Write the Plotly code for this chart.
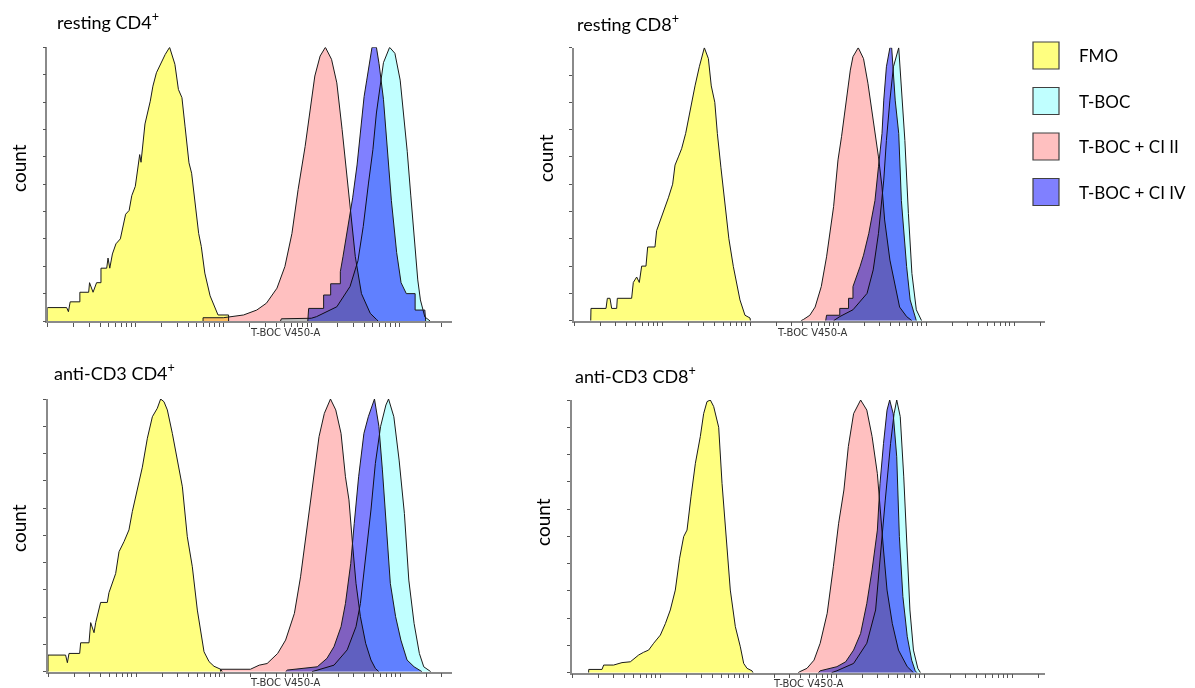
import numpy as np
import plotly.graph_objects as go

# ---------------- data (x in decades of T-BOC V450-A intensity, y in % of mode) ----------------
series_names = ["FMO", "T-BOC", "T-BOC + CI II", "T-BOC + CI IV"]
series_colors = ["#ffff80", "#c0ffff", "#ffc0c0", "#8080ff"]
panel_titles = ["resting CD4<sup>+</sup>", "resting CD8<sup>+</sup>",
                "anti-CD3 CD4<sup>+</sup>", "anti-CD3 CD8<sup>+</sup>"]
y_ticks = [0, 10, 20, 30, 40, 50, 60, 70, 80, 90, 100]

# resting CD4+
rcd4_fmo_x = [0.00, 0.00, 0.22, 0.24, 0.26, 0.37, 0.37, 0.47, 0.48, 0.52, 0.56, 0.61, 0.61, 0.675, 0.69, 0.71, 0.74, 0.78, 0.83, 0.86, 0.89, 0.93, 0.96, 1.00, 1.05, 1.065, 1.11, 1.17, 1.20, 1.24, 1.30, 1.34, 1.39, 1.41, 1.45, 1.49, 1.53, 1.565, 1.61, 1.64, 1.68, 1.72, 1.75, 1.79, 1.85, 1.90, 1.94, 2.06, 2.06]
rcd4_fmo_y = [0, 4.9, 4.9, 3.4, 7.0, 7.0, 10.5, 10.5, 14.0, 10.5, 14.0, 14.0, 19.3, 19.3, 23.0, 19.3, 24.5, 28.2, 30.0, 35.0, 39.0, 40.4, 45.8, 49.2, 60.8, 58.0, 72.0, 80.3, 85.8, 90.7, 95.0, 97.4, 100, 98.0, 93.8, 84.6, 81.6, 71.2, 57.8, 54.0, 43.7, 32.0, 27.2, 17.5, 9.2, 5.2, 2.2, 2.2, 0]
rcd4_tboc_x = [2.65, 2.66, 3.00, 3.06, 3.29, 3.44, 3.53, 3.59, 3.65, 3.70, 3.74, 3.78, 3.82, 3.89, 3.95, 4.01, 4.05, 4.09, 4.13, 4.17, 4.21, 4.24, 4.29, 4.35]
rcd4_tboc_y = [0, 0.8, 1.0, 1.6, 5.2, 12.6, 22.0, 34.5, 50.4, 62.6, 76.0, 85.8, 94.4, 100, 97.8, 88.0, 75.0, 62.0, 46.0, 30.0, 15.0, 7.7, 1.5, 0]
rcd4_ci2_x = [1.77, 1.77, 2.00, 2.23, 2.38, 2.49, 2.61, 2.70, 2.78, 2.85, 2.93, 2.985, 3.04, 3.10, 3.16, 3.23, 3.29, 3.35, 3.40, 3.45, 3.50, 3.57, 3.67, 3.74, 3.76]
rcd4_ci2_y = [0, 1.2, 1.2, 2.2, 4.0, 6.5, 12.0, 19.9, 32.0, 48.0, 63.8, 76.0, 89.5, 96.8, 100, 95.6, 87.0, 70.0, 54.0, 39.4, 23.5, 10.0, 2.8, 0.6, 0]
rcd4_ci4_x = [2.96, 2.97, 3.14, 3.14, 3.22, 3.22, 3.33, 3.33, 3.36, 3.42, 3.47, 3.52, 3.56, 3.60, 3.63, 3.66, 3.69, 3.74, 3.77, 3.82, 3.86, 3.91, 3.97, 4.02, 4.08, 4.18, 4.18, 4.29, 4.30]
rcd4_ci4_y = [0, 4.6, 4.6, 9.5, 9.5, 13.6, 13.6, 18.0, 23.5, 34.5, 45.0, 57.0, 69.0, 82.0, 88.0, 94.0, 100, 100, 94.0, 81.0, 64.0, 44.0, 25.0, 14.0, 10.0, 10.0, 4.0, 4.0, 0]

# resting CD8+
rcd8_fmo_x = [0.19, 0.193, 0.364, 0.379, 0.409, 0.428, 0.485, 0.492, 0.655, 0.674, 0.712, 0.742, 0.769, 0.818, 0.837, 0.92, 0.939, 0.996, 1.015, 1.072, 1.121, 1.148, 1.186, 1.223, 1.269, 1.30, 1.337, 1.375, 1.424, 1.451, 1.481, 1.527, 1.56, 1.60, 1.629, 1.67, 1.712, 1.76, 1.811, 1.886, 1.943, 2.00, 2.005]
rcd8_fmo_y = [0, 4.5, 4.5, 8.2, 8.2, 4.5, 4.5, 8.2, 8.2, 14, 16, 14, 20, 20, 27, 27, 33, 38, 40, 45, 50, 57, 60, 63, 68.6, 74, 80.8, 86, 93, 96, 100, 96, 86, 80, 68.6, 56, 44, 30, 19.8, 7.6, 2, 1, 0]
rcd8_tboc_x = [2.95, 3.02, 3.17, 3.33, 3.40, 3.46, 3.52, 3.55, 3.59, 3.63, 3.69, 3.72, 3.76, 3.80, 3.84, 3.89, 3.95]
rcd8_tboc_y = [0, 1.5, 4, 10, 18.6, 32, 51.5, 66, 80.8, 93, 100, 87, 66, 39.3, 17.3, 4, 0]
rcd8_ci2_x = [2.58, 2.61, 2.68, 2.74, 2.81, 2.87, 2.95, 3.00, 3.04, 3.08, 3.14, 3.17, 3.23, 3.29, 3.34, 3.40, 3.46, 3.50, 3.53, 3.59, 3.65, 3.70, 3.78, 3.84]
rcd8_ci2_y = [0, 0.5, 2, 5, 12.5, 23.4, 41.8, 58.9, 67.4, 77, 91.8, 96.7, 100, 96, 87, 73.5, 60, 49, 36.9, 22.2, 12.5, 5, 1.5, 0]
rcd8_ci4_x = [2.86, 2.87, 3.02, 3.02, 3.12, 3.12, 3.17, 3.17, 3.25, 3.29, 3.35, 3.42, 3.46, 3.50, 3.52, 3.55, 3.59, 3.61, 3.65, 3.69, 3.72, 3.78, 3.82, 3.875, 3.89]
rcd8_ci4_y = [0, 2, 2, 4.5, 4.5, 8.2, 8.2, 12.5, 19.8, 24, 32, 44, 56.4, 68.6, 80.8, 93, 100, 100, 80.8, 68.6, 44, 19.8, 7.6, 1.5, 0]

# anti-CD3 CD4+
acd4_fmo_x = [0.0, 0.0, 0.2, 0.22, 0.239, 0.36, 0.371, 0.466, 0.485, 0.523, 0.542, 0.598, 0.674, 0.693, 0.769, 0.807, 0.864, 0.92, 0.958, 1.015, 1.072, 1.129, 1.186, 1.242, 1.28, 1.318, 1.356, 1.413, 1.47, 1.527, 1.583, 1.64, 1.697, 1.773, 1.83, 1.886, 1.962, 1.98]
acd4_fmo_y = [0, 6.1, 6.1, 3.3, 6.7, 6.7, 10.6, 10.6, 18, 14.3, 18, 25.4, 25.4, 29, 36, 44, 47.7, 52, 58.7, 66.6, 75, 85.6, 93.5, 96.6, 100, 99, 96, 87.4, 77.6, 67.8, 49.5, 38.5, 22.6, 7.3, 3.7, 2, 0.9, 0]
acd4_tboc_x = [3.0, 3.06, 3.25, 3.40, 3.50, 3.55, 3.61, 3.67, 3.72, 3.78, 3.84, 3.87, 3.93, 3.99, 4.05, 4.10, 4.16, 4.22, 4.27, 4.35]
acd4_tboc_y = [0, 0.6, 2.4, 8, 16.5, 25, 42, 59.3, 76.4, 90, 97.8, 100, 93.5, 77.6, 58, 33.6, 17.7, 6.7, 1.8, 0]
acd4_ci2_x = [1.96, 1.96, 2.30, 2.40, 2.49, 2.61, 2.70, 2.80, 2.87, 2.93, 2.98, 3.02, 3.08, 3.14, 3.21, 3.27, 3.33, 3.38, 3.42, 3.46, 3.50, 3.55, 3.61, 3.67, 3.72, 3.76]
acd4_ci2_y = [0, 0.9, 0.9, 2.4, 3, 6.7, 11.6, 21.4, 34.8, 49.5, 63, 71.5, 86.2, 94.7, 100, 96, 87.4, 71.5, 63, 47, 32.4, 20.2, 10.4, 4.3, 1.2, 0]
acd4_ci4_x = [2.70, 2.72, 3.06, 3.17, 3.25, 3.33, 3.38, 3.44, 3.48, 3.53, 3.59, 3.64, 3.71, 3.76, 3.80, 3.86, 3.89, 3.95, 4.01, 4.08, 4.16, 4.25]
acd4_ci4_y = [0, 0.6, 1.8, 4.9, 9.2, 16.5, 25, 39.7, 54.4, 71.5, 87.4, 93.5, 100, 90, 74, 48.3, 32.4, 20.2, 11.6, 4.3, 1.8, 0]

# anti-CD3 CD8+
acd8_fmo_x = [0.189, 0.19, 0.341, 0.36, 0.473, 0.568, 0.663, 0.758, 0.814, 0.871, 0.928, 1.004, 1.061, 1.117, 1.174, 1.223, 1.269, 1.307, 1.352, 1.402, 1.458, 1.496, 1.534, 1.572, 1.61, 1.667, 1.705, 1.742, 1.799, 1.856, 1.913, 1.951, 1.989, 2.045, 2.057]
acd8_fmo_y = [0, 1.2, 1.2, 2.8, 2.8, 3.7, 4.0, 6.5, 7.5, 8.3, 10.8, 13.8, 18, 23, 30.3, 42, 49.9, 52.3, 64.5, 76.8, 86.6, 95, 99.4, 100, 97.6, 90, 69.4, 54.8, 30.3, 16.9, 9.5, 3.4, 1.6, 0.7, 0]
acd8_tboc_x = [2.95, 3.01, 3.20, 3.35, 3.45, 3.50, 3.56, 3.62, 3.66, 3.69, 3.73, 3.77, 3.81, 3.84, 3.88, 3.93, 3.96]
acd8_tboc_y = [0, 0.7, 3.4, 10.8, 23, 40, 63.3, 84, 95, 100, 93.9, 71.8, 45, 23, 8.3, 1.6, 0]
acd8_ci2_x = [2.57, 2.59, 2.67, 2.75, 2.82, 2.90, 2.97, 3.03, 3.09, 3.14, 3.20, 3.28, 3.35, 3.41, 3.47, 3.50, 3.54, 3.58, 3.64, 3.71, 3.81, 3.88]
acd8_ci2_y = [0, 0.4, 1.6, 4.6, 10.8, 21.8, 38.9, 54.8, 67, 82.9, 95, 100, 96.3, 86.6, 73, 59.7, 45, 30.3, 18, 8.3, 2.2, 0]
acd8_ci4_x = [2.80, 2.82, 3.01, 3.11, 3.20, 3.28, 3.35, 3.41, 3.47, 3.50, 3.54, 3.58, 3.61, 3.65, 3.69, 3.72, 3.76, 3.81, 3.86, 3.90, 3.92]
acd8_ci4_y = [0, 0.7, 2.2, 4, 8.3, 14.4, 25.4, 37.7, 52.3, 69.4, 84.1, 96.3, 100, 95, 79.2, 49.9, 27.9, 13.2, 4.6, 0.7, 0]

panels_data = [
    [(rcd4_fmo_x, rcd4_fmo_y), (rcd4_tboc_x, rcd4_tboc_y), (rcd4_ci2_x, rcd4_ci2_y), (rcd4_ci4_x, rcd4_ci4_y)],
    [(rcd8_fmo_x, rcd8_fmo_y), (rcd8_tboc_x, rcd8_tboc_y), (rcd8_ci2_x, rcd8_ci2_y), (rcd8_ci4_x, rcd8_ci4_y)],
    [(acd4_fmo_x, acd4_fmo_y), (acd4_tboc_x, acd4_tboc_y), (acd4_ci2_x, acd4_ci2_y), (acd4_ci4_x, acd4_ci4_y)],
    [(acd8_fmo_x, acd8_fmo_y), (acd8_tboc_x, acd8_tboc_y), (acd8_ci2_x, acd8_ci2_y), (acd8_ci4_x, acd8_ci4_y)],
]

# ---------------- layout geometry (pixels of a 1195 x 688 canvas) ----------------
W, H = 1195, 688
def px(x):
    return x / W
def py(y):
    return 1 - y / H

DEC = 88.0  # pixels per decade
# (left, right, top, bottom) of each plot area
panel_boxes = [(47.3, 452, 47.3, 321), (574, 1045, 47.7, 320.7),
               (48, 452, 399, 671.7), (572, 1045, 400, 672.7)]
title_pos = [(55, 21), (575, 23), (52, 372), (573, 375)]
count_pos = [(18, 168), (546, 158), (18, 528), (542, 522)]
xlabel_pos = [(285, 332), (812, 332), (285, 682), (808, 683)]

fig = go.Figure()
annotations = []
shapes = []
for p in range(4):
    ax = "" if p == 0 else str(p + 1)
    for s in range(4):
        xs, ys = panels_data[p][s]
        assert len(xs) == len(ys)
        fig.add_trace(go.Scatter(
            x=xs, y=ys, mode="lines", fill="tozeroy",
            fillcolor=series_colors[s],
            line=dict(color="#1a1a1a", width=1),
            name=series_names[s], showlegend=False,
            xaxis="x" + ax, yaxis="y" + ax, hoverinfo="skip"))
    l, r, t, b = panel_boxes[p]
    xmax = (r - l) / DEC
    xt = [np.log10(k * 10 ** n) for n in range(0, 6) for k in range(1, 10)
          if np.log10(k * 10 ** n) <= xmax + 1e-9]
    fig.update_layout(**{
        "xaxis" + ax: dict(domain=[px(l), px(r)], range=[0, xmax], anchor="y" + ax,
                           showgrid=False, zeroline=False, showline=True,
                           linecolor="#8a8a8a", linewidth=1.5,
                           ticks="outside", tickvals=xt, ticklen=4, tickwidth=1,
                           tickcolor="#555555", showticklabels=False, fixedrange=True),
        "yaxis" + ax: dict(domain=[py(b), py(t)], range=[0, 100], anchor="x" + ax,
                           showgrid=False, zeroline=False, showline=True,
                           linecolor="#8a8a8a", linewidth=1.5,
                           ticks="outside", tickvals=y_ticks, ticklen=3, tickwidth=1,
                           tickcolor="#555555", showticklabels=False, fixedrange=True),
    })
    tx, ty = title_pos[p]
    annotations.append(dict(x=px(tx), y=py(ty), xref="paper", yref="paper",
                            text=panel_titles[p], showarrow=False, xanchor="left",
                            yanchor="middle", font=dict(family="Lato", size=18, color="#000000")))
    cx, cy = count_pos[p]
    annotations.append(dict(x=px(cx), y=py(cy), xref="paper", yref="paper",
                            text="count", showarrow=False, textangle=-90,
                            xanchor="center", yanchor="middle",
                            font=dict(family="Lato", size=19, color="#000000")))
    lx, ly = xlabel_pos[p]
    annotations.append(dict(x=px(lx), y=py(ly), xref="paper", yref="paper",
                            text="T-BOC V450-A", showarrow=False,
                            xanchor="center", yanchor="middle",
                            font=dict(family="DejaVu Sans", size=10, color="#333333")))

# legend (drawn as boxes + labels)
legend_rows = [55.5, 101, 146.5, 192]
for i, yc in enumerate(legend_rows):
    shapes.append(dict(type="rect", xref="paper", yref="paper",
                       x0=px(1033), x1=px(1059), y0=py(yc + 13.5), y1=py(yc - 13.5),
                       fillcolor=series_colors[i], line=dict(color="#404040", width=1.2)))
    annotations.append(dict(x=px(1077), y=py(yc), xref="paper", yref="paper",
                            text=series_names[i], showarrow=False, xanchor="left",
                            yanchor="middle", font=dict(family="Lato", size=17, color="#000000")))

fig.update_layout(width=W, height=H, margin=dict(l=0, r=0, t=0, b=0),
                  paper_bgcolor="white", plot_bgcolor="white",
                  annotations=annotations, shapes=shapes, showlegend=False)

blend_js = ("var s=document.createElement('style');"
            "s.textContent='html,body{margin:0;padding:0;overflow:hidden;}"
            ".js-fill{mix-blend-mode:multiply;}';"
            "document.head.appendChild(s);")
fig.write_html("out.html", post_script=blend_js, config={"displayModeBar": False})
